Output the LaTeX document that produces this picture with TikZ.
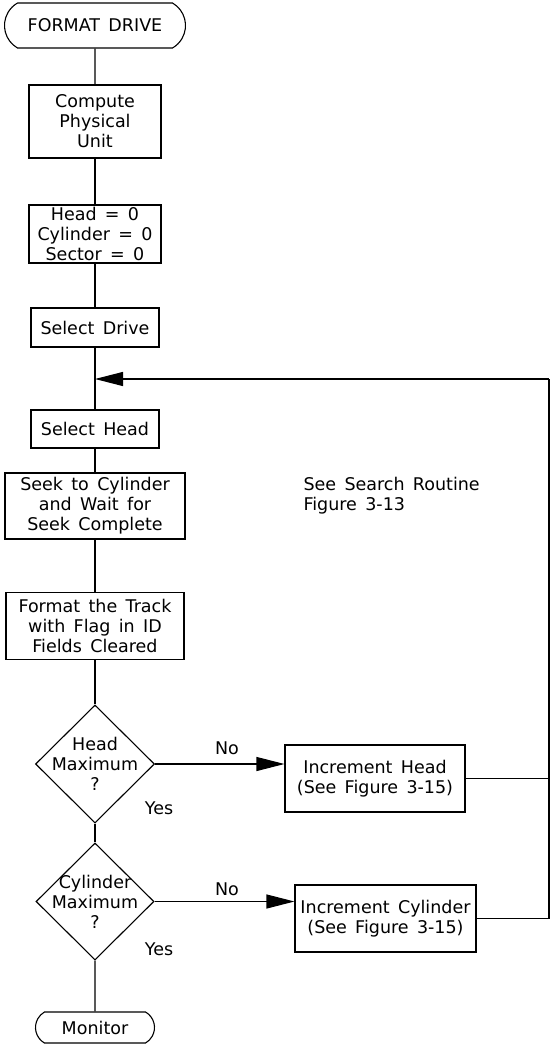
\documentclass[tikz,border=0pt]{standalone}
\usepackage{fontspec}
\setmainfont{DejaVu Sans}[WordSpace=1.5]
\usepackage{tikz}
\usetikzlibrary{shapes.geometric,shapes.misc,arrows.meta}

\begin{document}
\begin{tikzpicture}[
  x=1pt, y=-1pt,
  font=\fontsize{17.5}{20}\selectfont,
  term/.style={rounded rectangle, rounded rectangle arc length=120, draw,
               line width=1.1pt, inner sep=2pt},
  proc/.style={draw, rectangle, line width=1.1pt, align=center, inner sep=2pt},
  test/.style={diamond, draw, line width=1.1pt, inner sep=0pt},
  flow/.style={draw=black, line width=1.1pt},
  jump/.style={flow, -{Triangle[length=28pt,width=14pt]}},
]
  \useasboundingbox (0,0) rectangle (552,1044);
  % main column
  \node[term, minimum width=185pt, minimum height=45pt] (start) at (95,25.5) {FORMAT DRIVE};
  \node[proc, minimum width=132pt, minimum height=73pt] (compute) at (95,121.5) {Compute\\Physical\\Unit};
  \node[proc, minimum width=132pt, minimum height=58pt] (zero) at (95,234) {Head = 0\\Cylinder = 0\\Sector = 0};
  \node[proc, minimum width=128pt, minimum height=39pt] (drive) at (95,327.5) {Select Drive};
  \node[proc, minimum width=128pt, minimum height=38pt] (head) at (95,429) {Select Head};
  \node[proc, minimum width=180pt, minimum height=66pt] (seek) at (95,506) {Seek to Cylinder\\and Wait for\\Seek Complete};
  \node[proc, minimum width=178pt, minimum height=67pt] (track) at (95,626) {Format the Track\\with Flag in ID\\Fields Cleared};
  \node[test, minimum width=119pt, minimum height=118pt,
        label={[align=center]center:Head\\Maximum\\?}] (hmax) at (95,764) {};
  \node[test, minimum width=118pt, minimum height=117pt,
        label={[align=center]center:Cylinder\\Maximum\\?}] (cmax) at (95,901.5) {};
  \node[term, minimum width=123pt, minimum height=31pt] (monitor) at (95,1027.5) {Monitor};
  % right side
  \node[proc, minimum width=180pt, minimum height=67pt] (inch) at (375,778.5) {Increment Head\\(See Figure 3-15)};
  \node[proc, minimum width=181pt, minimum height=67pt] (incc) at (385.5,918.5) {Increment Cylinder\\(See Figure 3-15)};
  \node[anchor=west, align=left] (note) at (300,496) {See Search Routine\\Figure 3-13};
  \coordinate (top) at (549,379);
  \coordinate (join) at (95,379);
  % labels
  \node (no1) at (227,748) {No};
  \node (no2) at (227,889) {No};
  \node (yes1) at (159,808) {Yes};
  \node (yes2) at (159,949) {Yes};
  % connectors
  \draw[flow] (start) -- (compute);
  \draw[flow] (compute) -- (zero);
  \draw[flow] (zero) -- (drive);
  \draw[flow] (drive) -- (head);
  \draw[flow] (head) -- (seek);
  \draw[flow] (seek) -- (track);
  \draw[flow] (track) -- (hmax);
  \draw[flow] (hmax) -- (cmax);
  \draw[flow] (cmax) -- (monitor);
  \draw[jump] (hmax.east) -- (hmax.east -| inch.west);
  \draw[jump] (cmax.east) -- (cmax.east -| incc.west);
  \draw[flow] (inch.east) -| (top);
  \draw[flow] (incc.east) -| (top);
  \draw[jump] (top) -- (join);
\end{tikzpicture}
\end{document}
